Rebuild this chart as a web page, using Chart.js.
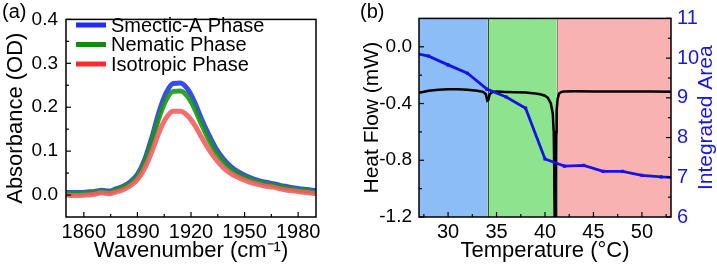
<!DOCTYPE html>
<html>
<head>
<meta charset="utf-8">
<script src="https://cdn.jsdelivr.net/npm/chart.js@4.4.1/dist/chart.umd.min.js"></script>
<style>
  html, body { margin: 0; padding: 0; background: #fff; }
  #wrap { position: relative; width: 717px; height: 265px; overflow: hidden; }
  canvas { position: absolute; top: 0; }
  #chartA { left: 0; }
  #chartB { left: 358px; }
</style>
</head>
<body>
<div id="wrap">
  <canvas id="chartA" width="358" height="265"></canvas>
  <canvas id="chartB" width="359" height="265"></canvas>
</div>
<script>
"use strict"

// ---- panel (a): IR absorbance spectra ----
var wavenumber = [1850, 1854, 1858, 1862, 1866, 1870, 1874, 1878, 1882, 1886, 1890, 1894,
  1898, 1902, 1906, 1910, 1914, 1918, 1922, 1926, 1930, 1934, 1938, 1942,
  1946, 1950, 1954, 1958, 1962, 1966, 1970, 1974, 1978, 1982, 1986, 1990];
var smecticA = [0.006, 0.006, 0.006, 0.007, 0.008, 0.011, 0.009, 0.014, 0.020, 0.030, 0.047, 0.080,
  0.130, 0.188, 0.232, 0.254, 0.255, 0.242, 0.212, 0.172, 0.137, 0.106, 0.083, 0.066,
  0.054, 0.045, 0.038, 0.033, 0.029, 0.026, 0.022, 0.019, 0.016, 0.014, 0.012, 0.010];
var nematic = [0.004, 0.004, 0.004, 0.005, 0.006, 0.009, 0.007, 0.012, 0.018, 0.027, 0.043, 0.074,
  0.121, 0.175, 0.216, 0.236, 0.237, 0.225, 0.197, 0.160, 0.126, 0.097, 0.076, 0.060,
  0.049, 0.041, 0.035, 0.030, 0.026, 0.023, 0.019, 0.016, 0.013, 0.011, 0.009, 0.007];
var isotropic = [0.000, -0.001, -0.001, 0.000, 0.002, 0.005, 0.003, 0.007, 0.012, 0.021, 0.035, 0.060,
  0.098, 0.142, 0.175, 0.191, 0.191, 0.181, 0.160, 0.131, 0.104, 0.081, 0.063, 0.050,
  0.041, 0.034, 0.028, 0.024, 0.020, 0.018, 0.014, 0.011, 0.009, 0.007, 0.005, 0.003];
var phaseLabels = ["Smectic-A Phase", "Nematic Phase", "Isotropic Phase"];
var wavenumberTicks = [1860, 1890, 1920, 1950, 1980];
var absorbanceTicks = [0.0, 0.1, 0.2, 0.3, 0.4];

// ---- panel (b): DSC heat flow + integrated area ----
var temperatureDSC = [27, 28, 29, 30, 31, 32, 33, 33.6, 33.9, 34.05, 34.15, 34.3, 34.6, 35, 36, 37, 38, 39,
  39.5, 40, 40.3, 40.6, 40.8, 40.9, 40.95, 41.0, 41.05, 41.1, 41.15, 41.2, 41.3, 41.45, 41.7, 42,
  43, 45, 47, 49, 51, 53];
var heatFlow = [-0.325, -0.31, -0.303, -0.300, -0.300, -0.303, -0.31, -0.318, -0.335, -0.38, -0.375, -0.335, -0.318, -0.316, -0.318, -0.32, -0.323, -0.33,
  -0.335, -0.345, -0.36, -0.40, -0.47, -0.6, -0.85, -1.25, -1.25, -0.95, -0.6, -0.45, -0.37, -0.33, -0.318, -0.315,
  -0.314, -0.315, -0.316, -0.316, -0.316, -0.317];
var temperatureIR = [26, 28, 30, 32, 34, 36, 38, 40, 42, 44, 46, 48, 50, 52, 54];
var integratedArea = [10.15, 10.05, 9.83, 9.62, 9.22, 9.02, 8.74, 7.46, 7.28, 7.30, 7.15, 7.15, 7.05, 7.01, 6.99];
var transitionTemps = [34.1, 41.2];
var temperatureTicks = [30, 35, 40, 45, 50];
var heatFlowTicks = [-1.2, -0.8, -0.4, 0.0];
var areaTicks = [6, 7, 8, 9, 10, 11];

Chart.defaults.font.family = "'Liberation Sans', Arial, sans-serif";
Chart.defaults.color = "#000";

var FONT = "'Liberation Sans', Arial, sans-serif";

function pairs(xs, ys) {
  return xs.map(function(x, i) { return { x: x, y: ys[i] }; });
}

function fixedTicks(list) {
  return function(scale) {
    scale.ticks = list.map(function(v) { return { value: v }; });
  };
}

function plain(v) { return String(v); }
function oneDec(v) { return v.toFixed(1); }

// frame around the plot plus inward major/minor ticks
var frameTicks = {
  id: 'frameTicks',
  afterDraw: function(chart) {
    var ctx = chart.ctx, a = chart.chartArea;
    ctx.save();
    ctx.strokeStyle = '#000';
    ctx.lineWidth = 1.5;
    ctx.strokeRect(a.left, a.top, a.right - a.left, a.bottom - a.top);
    ctx.lineWidth = 1.2;
    Object.keys(chart.scales).forEach(function(id) {
      var s = chart.scales[id];
      var majors = s.ticks.map(function(t) { return t.value; });
      var step = majors[1] - majors[0];
      var marks = [];
      majors.forEach(function(v) { marks.push([v, 5]); });
      for (var v = majors[0] - step / 2; v <= s.max + 1e-9; v += step) {
        if (v > s.min + 1e-9 && v < s.max - 1e-9) marks.push([v, 3]);
      }
      marks.forEach(function(m) {
        var p = s.getPixelForValue(m[0]);
        ctx.beginPath();
        if (s.isHorizontal()) {
          ctx.moveTo(p, a.bottom); ctx.lineTo(p, a.bottom - m[1]);
        } else if (s.position === 'left') {
          ctx.moveTo(a.left, p); ctx.lineTo(a.left + m[1], p);
        } else {
          ctx.moveTo(a.right, p); ctx.lineTo(a.right - m[1], p);
        }
        ctx.stroke();
      });
    });
    ctx.restore();
  }
};

var panelLabel = {
  id: 'panelLabel',
  afterDraw: function(chart, args, opts) {
    var ctx = chart.ctx;
    ctx.save();
    ctx.font = '20px ' + FONT;
    ctx.fillStyle = '#000';
    ctx.textBaseline = 'middle';
    ctx.fillText(opts.text, 2, 12);
    ctx.restore();
  }
};

var legendA = {
  id: 'legendA',
  afterDraw: function(chart) {
    var ctx = chart.ctx;
    ctx.save();
    ctx.font = '20px ' + FONT;
    ctx.textBaseline = 'middle';
    chart.data.datasets.forEach(function(ds, i) {
      var y = 25 + i * 19.5;
      ctx.strokeStyle = ds.legendColor;
      ctx.lineWidth = 5;
      ctx.beginPath();
      ctx.moveTo(76, y);
      ctx.lineTo(106, y);
      ctx.stroke();
      ctx.fillStyle = '#000';
      ctx.fillText(ds.label, 111, y + 1);
    });
    ctx.restore();
  }
};

var ctxA = document.getElementById("chartA").getContext('2d');
var chartA = new Chart(ctxA, {
  type: 'line',
  data: {
    datasets: [{
      label: phaseLabels[0],
      data: pairs(wavenumber, smecticA),
      borderColor: 'rgba(35, 55, 240, 0.9)',
      legendColor: '#1f2bff',
      borderWidth: 5,
      order: 3
    }, {
      label: phaseLabels[1],
      data: pairs(wavenumber, nematic),
      borderColor: 'rgba(25, 150, 25, 0.9)',
      legendColor: '#128a12',
      borderWidth: 5,
      order: 2
    }, {
      label: phaseLabels[2],
      data: pairs(wavenumber, isotropic),
      borderColor: 'rgba(242, 95, 95, 0.9)',
      legendColor: '#ff2a2a',
      borderWidth: 5,
      order: 1
    }]
  },
  options: {
    responsive: false,
    animation: false,
    events: [],
    elements: { point: { radius: 0 }, line: { tension: 0.4, cubicInterpolationMode: 'monotone' } },
    layout: { padding: { top: 14, right: 42, left: 0, bottom: 0 } },
    plugins: { legend: { display: false }, tooltip: { enabled: false }, panelLabel: { text: '(a)' } },
    scales: {
      x: {
        type: 'linear', min: 1850, max: 1990,
        afterBuildTicks: fixedTicks(wavenumberTicks),
        afterFit: function(s) { s.height = 48; },
        grid: { display: false, drawTicks: false },
        border: { display: false },
        ticks: { font: { size: 20 }, padding: 3, maxRotation: 0, callback: plain },
        title: { display: true, text: 'Wavenumber (cm\u207B\u00B9)', font: { size: 22 }, padding: { top: 0, bottom: 1 } }
      },
      y: {
        min: -0.05, max: 0.4,
        afterBuildTicks: fixedTicks(absorbanceTicks),
        afterFit: function(s) { s.width = 66; },
        grid: { display: false, drawTicks: false },
        border: { display: false },
        ticks: { font: { size: 19 }, padding: 8, callback: oneDec },
        title: { display: true, text: 'Absorbance (OD)', font: { size: 22 }, padding: { top: 3, bottom: 0 } }
      }
    }
  },
  plugins: [frameTicks, legendA, panelLabel]
});

// colored phase regions and boundary lines
var phaseShade = {
  id: 'phaseShade',
  beforeDatasetsDraw: function(chart) {
    var ctx = chart.ctx, a = chart.chartArea, xs = chart.scales.x;
    var edges = [xs.min].concat(transitionTemps, [xs.max]);
    var fills = ['#8dbdf6', '#8ee38e', '#f8b2b2'];
    ctx.save();
    for (var i = 0; i < fills.length; i++) {
      var x0 = xs.getPixelForValue(edges[i]);
      var x1 = xs.getPixelForValue(edges[i + 1]);
      ctx.fillStyle = fills[i];
      ctx.fillRect(x0, a.top, x1 - x0, a.bottom - a.top);
    }
    var lines = ['#3d4d3d', '#8a8a8a'];
    transitionTemps.forEach(function(t, i) {
      var x = Math.round(xs.getPixelForValue(t)) + 0.5;
      ctx.strokeStyle = lines[i];
      ctx.lineWidth = 1;
      ctx.beginPath();
      ctx.moveTo(x, a.top);
      ctx.lineTo(x, a.bottom);
      ctx.stroke();
    });
    ctx.restore();
  }
};

var rightTitle = {
  id: 'rightTitle',
  afterDraw: function(chart) {
    var ctx = chart.ctx, a = chart.chartArea;
    ctx.save();
    ctx.font = '21px ' + FONT;
    ctx.fillStyle = '#1818e0';
    ctx.textAlign = 'center';
    ctx.textBaseline = 'middle';
    ctx.translate(348, (a.top + a.bottom) / 2);
    ctx.rotate(-Math.PI / 2);
    ctx.fillText('Integrated Area', 0, 0);
    ctx.restore();
  }
};

var ctxB = document.getElementById("chartB").getContext('2d');
var chartB = new Chart(ctxB, {
  type: 'line',
  data: {
    datasets: [{
      label: 'Integrated Area',
      data: pairs(temperatureIR, integratedArea),
      yAxisID: 'y1',
      borderColor: '#1414e6',
      backgroundColor: '#1414e6',
      borderWidth: 2.8,
      pointStyle: 'rect',
      pointRadius: 2.2,
      pointBorderWidth: 0,
      tension: 0
    }, {
      label: 'Heat Flow',
      data: pairs(temperatureDSC, heatFlow),
      yAxisID: 'y',
      borderColor: '#000',
      borderWidth: 2.5,
      pointRadius: 0,
      tension: 0
    }]
  },
  options: {
    responsive: false,
    animation: false,
    events: [],
    layout: { padding: { top: 14, right: 0, left: 0, bottom: 0 } },
    plugins: { legend: { display: false }, tooltip: { enabled: false }, panelLabel: { text: '(b)' } },
    scales: {
      x: {
        type: 'linear', min: 27, max: 53,
        afterBuildTicks: fixedTicks(temperatureTicks),
        afterFit: function(s) { s.height = 48; },
        grid: { display: false, drawTicks: false },
        border: { display: false },
        ticks: { font: { size: 20 }, padding: 3, maxRotation: 0, callback: plain },
        title: { display: true, text: 'Temperature (\u00B0C)', font: { size: 22 }, padding: { top: 0, bottom: 1 } }
      },
      y: {
        position: 'left', min: -1.2, max: 0.2,
        afterBuildTicks: fixedTicks(heatFlowTicks),
        afterFit: function(s) { s.width = 61; },
        grid: { display: false, drawTicks: false },
        border: { display: false },
        ticks: { font: { size: 19 }, padding: 7, callback: oneDec },
        title: { display: true, text: 'Heat Flow (mW)', font: { size: 21 }, padding: { top: 2, bottom: 0 } }
      },
      y1: {
        position: 'right', min: 6, max: 11,
        afterBuildTicks: fixedTicks(areaTicks),
        afterFit: function(s) { s.width = 46; },
        grid: { display: false, drawTicks: false },
        border: { display: false },
        ticks: { font: { size: 20 }, padding: 6, color: '#1818e0', callback: plain }
      }
    }
  },
  plugins: [phaseShade, frameTicks, rightTitle, panelLabel]
});
</script>
</body>
</html>
